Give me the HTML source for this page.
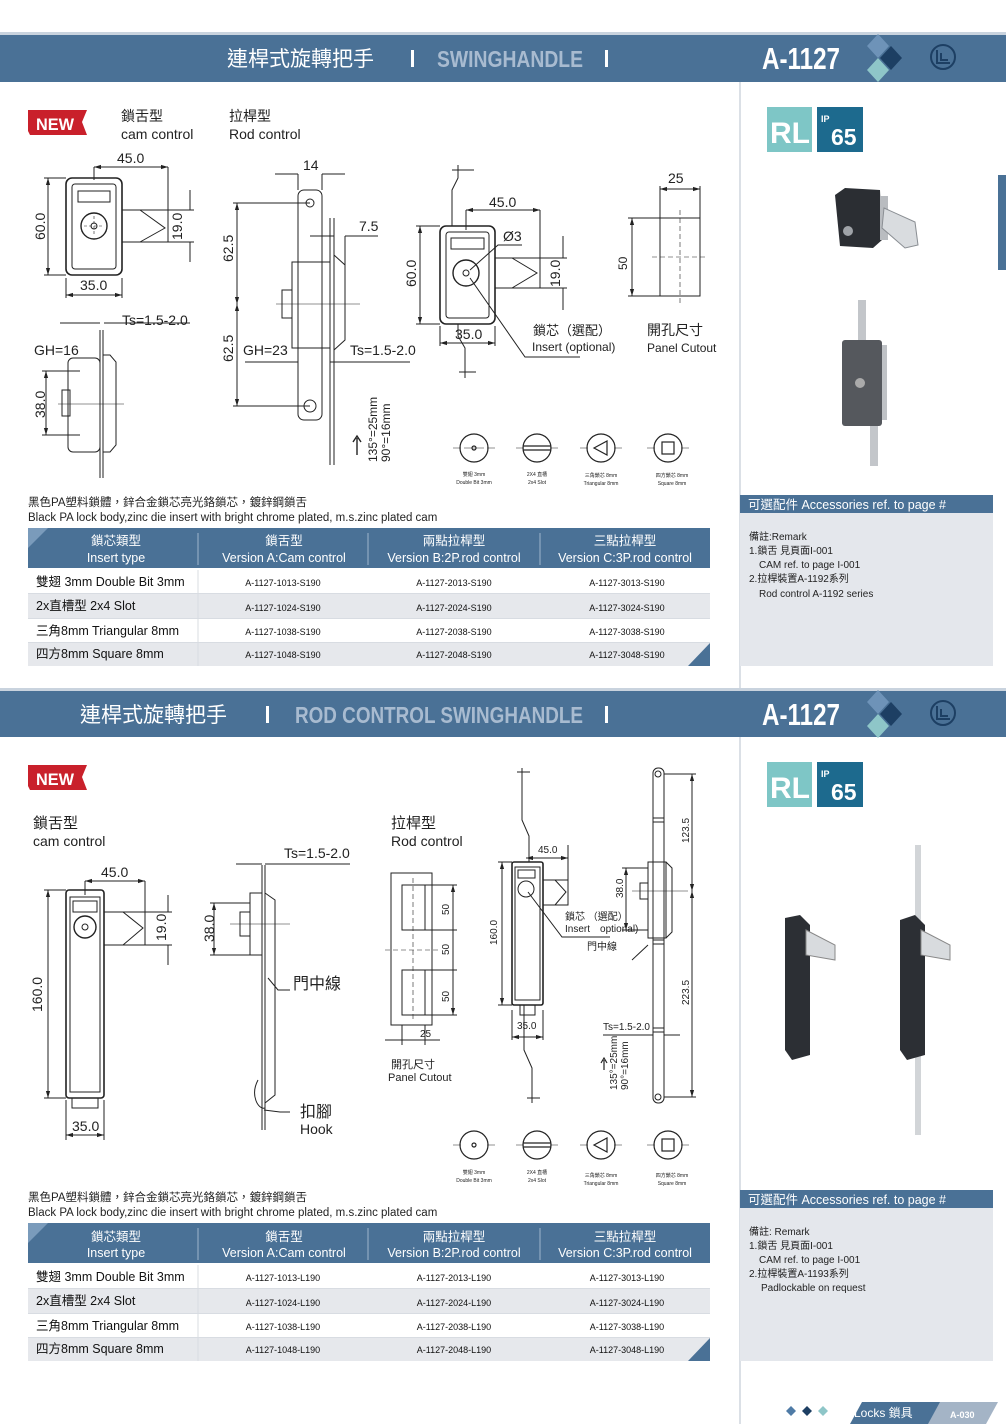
<!DOCTYPE html>
<html><head><meta charset="utf-8"><style>
html,body{margin:0;padding:0;background:#fff}
svg{display:block}
text{font-family:"Liberation Sans","Noto Sans CJK TC",sans-serif}
</style></head><body>
<svg width="1006" height="1424" viewBox="0 0 1006 1424" xmlns="http://www.w3.org/2000/svg">
<defs>
<marker id="a" viewBox="0 0 10 10" refX="10" refY="5" markerWidth="7" markerHeight="7" orient="auto-start-reverse"><path d="M0,2 L10,5 L0,8z" fill="#222"/></marker>
</defs>
<rect width="1006" height="1424" fill="#fff"/>

<!-- HEADER 1 -->
<rect x="0" y="32" width="1006" height="3" fill="#c9d3de"/>
<rect x="0" y="35" width="1006" height="47" fill="#4a7196"/>
<text x="227" y="66" font-size="21" fill="#fff">連桿式旋轉把手</text>
<rect x="411" y="50" width="3" height="17" fill="#fff"/>
<text x="437" y="67" font-size="23" fill="#a8bbd0" font-weight="bold" textLength="146" lengthAdjust="spacingAndGlyphs">SWINGHANDLE</text>
<rect x="605" y="50" width="3" height="17" fill="#fff"/>
<text x="762" y="69" font-size="31" fill="#fff" font-weight="bold" textLength="78" lengthAdjust="spacingAndGlyphs">A-1127</text>
<path d="M878,34 L889,46 L878,58 L867,46z" fill="#6e93b8"/>
<path d="M891,46 L902,58 L891,70 L880,58z" fill="#1d3f63"/>
<path d="M878,58 L889,70 L878,82 L867,70z" fill="#8ec6c8"/>
<circle cx="943" cy="57" r="12" fill="none" stroke="#1d3f63" stroke-width="2"/>
<path d="M937,50 V63 H950 M941,53 V60 H948" fill="none" stroke="#1d3f63" stroke-width="2"/>

<!-- right column divider -->
<line x1="740" y1="82" x2="740" y2="690" stroke="#cfd5de" stroke-width="1.5"/>
<line x1="740" y1="737" x2="740" y2="1424" stroke="#cfd5de" stroke-width="1.5"/>
<rect x="998" y="175" width="8" height="95" fill="#4a7196"/>

<!-- RL IP65 top -->
<rect x="767" y="107" width="45" height="45" fill="#7ec6c6"/>
<text x="770" y="143" font-size="30" font-weight="bold" fill="#fff">RL</text>
<rect x="817" y="107" width="46" height="45" fill="#1d6a8e"/>
<text x="821" y="122" font-size="9" font-weight="bold" fill="#fff">IP</text>
<text x="831" y="145" font-size="23" font-weight="bold" fill="#fff">65</text>

<!-- photo 1 -->
<path d="M845,188 L880,190 L882,240 L873,248 L840,246 L835,195z" fill="#2b2e33"/>
<rect x="880" y="196" width="8" height="44" fill="#b9bcc0"/>
<path d="M884,208 L915,222 L918,245 L905,248 L882,228z" fill="#d9dcdf" stroke="#8a8e93"/>
<circle cx="848" cy="231" r="5" fill="#9fa3a8"/>
<!-- photo 2 -->
<rect x="858" y="300" width="8" height="40" fill="#c3c6ca"/>
<rect x="842" y="340" width="40" height="86" rx="3" fill="#55585d"/>
<rect x="882" y="345" width="5" height="75" fill="#bfc2c6"/>
<circle cx="860" cy="383" r="5" fill="#aaa"/>
<rect x="870" y="426" width="8" height="40" fill="#c3c6ca"/>

<!-- NEW 1 -->
<path d="M28,110 L87,110 L82,122 L87,135 L30,135 L28,131z" fill="#c9202b"/>
<text x="36" y="130" font-size="17" font-weight="bold" fill="#fff" textLength="38" lengthAdjust="spacingAndGlyphs">NEW</text>
<text x="121" y="121" font-size="14" fill="#222">鎖舌型</text>
<text x="121" y="139" font-size="14" fill="#222">cam control</text>
<text x="229" y="121" font-size="14" fill="#222">拉桿型</text>
<text x="229" y="139" font-size="14" fill="#222">Rod control</text>

<g stroke="#222" stroke-width="1" fill="none">
<rect x="66" y="178" width="56" height="97" rx="6" stroke-width="1.6"/>
<rect x="72" y="184" width="44" height="85" rx="3"/>
<rect x="78" y="191" width="32" height="11"/>
<circle cx="94" cy="226" r="13" stroke-width="1.4"/>
<circle cx="94" cy="226" r="3"/>
<path d="M84,226 h20 M94,216 v20" stroke-dasharray="3,2" stroke-width="0.6"/>
<path d="M122,210 H168 V242 H122 M140,210 L165,228 L140,242"/>
<path d="M94,167 H168" marker-start="url(#a)" marker-end="url(#a)"/>
<path d="M168,167 V215 M94,167 V180"/>
<path d="M48,178 V275" marker-start="url(#a)" marker-end="url(#a)"/>
<path d="M44,178 H66 M44,275 H66"/>
<path d="M66,295 H122" marker-start="url(#a)" marker-end="url(#a)"/>
<path d="M66,278 V298 M122,278 V298"/>
<path d="M190,190 V210 M190,242 V262 M168,210 H194 M168,242 H194"/>
<path d="M100,330 V478 M103,330 V478"/>
<path d="M103,355 H110 L116,362 V445 L110,452 H103"/>
<rect x="68" y="358" width="32" height="94" rx="5"/>
<rect x="62" y="390" width="8" height="26"/>
<path d="M58,404 H124" stroke-width="0.6"/>
<path d="M60,323 H100 M104,323 H190"/>
<path d="M46,371 V435" marker-start="url(#a)" marker-end="url(#a)"/>
<path d="M42,371 H80 M42,435 H80"/>
<rect x="298" y="190" width="24" height="230" rx="6"/>
<circle cx="310" cy="203" r="4"/>
<circle cx="310" cy="406" r="6"/>
<path d="M330,218 V465 M334,218 V465"/>
<rect x="292" y="262" width="38" height="86"/>
<path d="M334,255 L345,265 V340 L334,350"/>
<rect x="282" y="290" width="10" height="28"/>
<path d="M276,304 H360" stroke-width="0.6"/>
<path d="M237,203 V304" marker-start="url(#a)" marker-end="url(#a)"/>
<path d="M237,304 V406" marker-start="url(#a)" marker-end="url(#a)"/>
<path d="M233,203 H310 M233,406 H310"/>
<path d="M275,174 H298 M322,174 H345 M298,174 V190 M322,174 V190"/>
<path d="M310,236 H334 M345,236 H378 M345,236 V300"/>
<path d="M245,362 H298 M330,362 H410"/>
<path d="M357,455 V438 M353,442 L357,436 L361,442" stroke-width="1.4"/>
<path d="M458,165 V178 L452,190 V226 M458,324 V336 L465,348 V378"/>
<path d="M452,170 H474 M459,372 H476"/>
<rect x="440" y="226" width="55" height="98" rx="6" stroke-width="1.6"/>
<rect x="446" y="232" width="43" height="86" rx="3"/>
<rect x="451" y="238" width="33" height="11"/>
<circle cx="466" cy="273" r="13" stroke-width="1.4"/>
<circle cx="466" cy="273" r="3"/>
<path d="M495,258 H540 V288 H495 M512,258 L537,273 L512,288"/>
<path d="M466,210 H540" marker-start="url(#a)" marker-end="url(#a)"/>
<path d="M466,210 V230 M540,210 V258"/>
<path d="M420,226 V324" marker-start="url(#a)" marker-end="url(#a)"/>
<path d="M416,226 H440 M416,324 H440"/>
<path d="M440,343 H495" marker-start="url(#a)" marker-end="url(#a)"/>
<path d="M440,326 V346 M495,326 V346"/>
<path d="M563,236 V258 M563,288 V310 M540,258 H567 M540,288 H567"/>
<path d="M470,270 L498,245 H522"/>
<path d="M470,278 L525,357 H580"/>
<rect x="660" y="218" width="40" height="78"/>
<path d="M680,210 V305 M652,257 H708" stroke-dasharray="5,3" stroke-width="0.6"/>
<path d="M660,189 H700" marker-start="url(#a)" marker-end="url(#a)"/>
<path d="M660,186 V218 M700,186 V218"/>
<path d="M632,218 V296" marker-start="url(#a)" marker-end="url(#a)"/>
<path d="M628,218 H660 M628,296 H660"/>
</g>
<g font-size="14" fill="#222">
<text x="117" y="163">45.0</text>
<text x="80" y="290">35.0</text>
<text transform="translate(45,240) rotate(-90)">60.0</text>
<text transform="translate(182,240) rotate(-90)">19.0</text>
<text x="122" y="325">Ts=1.5-2.0</text>
<text x="34" y="355">GH=16</text>
<text transform="translate(45,418) rotate(-90)">38.0</text>
<text x="303" y="170">14</text>
<text x="359" y="231">7.5</text>
<text transform="translate(233,262) rotate(-90)">62.5</text>
<text transform="translate(233,362) rotate(-90)">62.5</text>
<text x="243" y="355">GH=23</text>
<text x="350" y="355">Ts=1.5-2.0</text>
<text x="489" y="207">45.0</text>
<text x="503" y="241">Ø3</text>
<text transform="translate(416,287) rotate(-90)">60.0</text>
<text x="455" y="339">35.0</text>
<text transform="translate(560,287) rotate(-90)">19.0</text>
<text x="668" y="183">25</text>
<text transform="translate(627,270) rotate(-90)" font-size="12">50</text>
</g>
<g font-size="12" fill="#222">
<text transform="translate(377,462) rotate(-90)" font-size="12">135°=25mm</text>
<text transform="translate(390,462) rotate(-90)" font-size="12">90°=16mm</text>
<text x="533" y="335" font-size="13">鎖芯（選配）</text>
<text x="532" y="351">Insert (optional)</text>
<text x="647" y="335" font-size="14">開孔尺寸</text>
<text x="647" y="352">Panel Cutout</text>
</g>

<g stroke="#222" fill="none" stroke-width="1.2">
<circle cx="474" cy="448" r="14"/><circle cx="474" cy="448" r="2"/><path d="M464,448 h20" stroke-width="0.5"/>
<circle cx="537" cy="448" r="14"/><path d="M523,446 H551 M523,450 H551"/>
<circle cx="601" cy="448" r="14"/><path d="M594,448 L607,441 V455z"/>
<circle cx="668" cy="448" r="14"/><rect x="662" y="442" width="12" height="12"/>
<path d="M453,448 h8 M487,448 h8 M516,448 h8 M550,448 h8 M580,448 h8 M614,448 h8 M647,448 h8 M681,448 h8" stroke-width="0.6"/>
</g>
<g font-size="5" fill="#222" text-anchor="middle">
<text x="474" y="476">雙翅 3mm</text><text x="474" y="484">Double Bit 3mm</text>
<text x="537" y="476">2X4 直槽</text><text x="537" y="484">2x4 Slot</text>
<text x="601" y="477">三角鎖芯 8mm</text><text x="601" y="485">Triangular 8mm</text>
<text x="672" y="477">四方鎖芯 8mm</text><text x="672" y="485">Square 8mm</text>
</g>

<text x="28" y="506" font-size="11.5" fill="#222">黑色PA塑料鎖體，鋅合金鎖芯亮光鉻鎖芯，鍍鋅鋼鎖舌</text>
<text x="28" y="521" font-size="11.5" fill="#222">Black PA lock body,zinc die insert with bright chrome plated, m.s.zinc plated cam</text>

<g>
<rect x="28" y="528" width="682" height="40" fill="#4a7196"/>
<path d="M28,528 L48,528 L28,548z" fill="#7a9bbb"/>
<g stroke="#9fb5cc"><line x1="198" y1="533" x2="198" y2="565"/><line x1="368" y1="533" x2="368" y2="565"/><line x1="540" y1="533" x2="540" y2="565"/></g>
<g fill="#fff" font-size="12.5" text-anchor="middle">
<text x="116" y="545">鎖芯類型</text><text x="116" y="562">Insert type</text>
<text x="284" y="545">鎖舌型</text><text x="284" y="562">Version A:Cam control</text>
<text x="454" y="545">兩點拉桿型</text><text x="454" y="562">Version B:2P.rod control</text>
<text x="625" y="545">三點拉桿型</text><text x="625" y="562">Version C:3P.rod control</text>
</g>
<rect x="28" y="570" width="682" height="23" fill="#fff"/>
<rect x="28" y="594" width="682" height="24" fill="#e6e8ec"/>
<rect x="28" y="619" width="682" height="23" fill="#fff"/>
<rect x="28" y="643" width="682" height="23" fill="#e6e8ec"/>
<g stroke="#d8dce2"><line x1="28" y1="593.5" x2="710" y2="593.5"/><line x1="28" y1="618.5" x2="710" y2="618.5"/><line x1="28" y1="642.5" x2="710" y2="642.5"/><line x1="198" y1="570" x2="198" y2="666"/></g>
<path d="M710,643 V666 H688z" fill="#4a7196"/>
<g font-size="12.5" fill="#111">
<text x="36" y="586">雙翅 3mm Double Bit 3mm</text>
<text x="36" y="610">2x直槽型 2x4 Slot</text>
<text x="36" y="635">三角8mm Triangular 8mm</text>
<text x="36" y="658">四方8mm Square 8mm</text>
</g>
<g font-size="9" fill="#111" text-anchor="middle">
<text x="283" y="586">A-1127-1013-S190</text><text x="454" y="586">A-1127-2013-S190</text><text x="627" y="586">A-1127-3013-S190</text>
<text x="283" y="611">A-1127-1024-S190</text><text x="454" y="611">A-1127-2024-S190</text><text x="627" y="611">A-1127-3024-S190</text>
<text x="283" y="635">A-1127-1038-S190</text><text x="454" y="635">A-1127-2038-S190</text><text x="627" y="635">A-1127-3038-S190</text>
<text x="283" y="658">A-1127-1048-S190</text><text x="454" y="658">A-1127-2048-S190</text><text x="627" y="658">A-1127-3048-S190</text>
</g>
</g>

<rect x="740" y="495" width="253" height="18" fill="#4a7196"/>
<text x="748" y="509" font-size="12.5" fill="#fff">可選配件 Accessories ref. to page #</text>
<rect x="740" y="513" width="253" height="153" fill="#e4e7ec"/>
<g font-size="10" fill="#222">
<text x="749" y="540">備註:Remark</text>
<text x="749" y="554">1.鎖舌 見頁面I-001</text>
<text x="759" y="568">CAM ref. to page I-001</text>
<text x="749" y="582">2.拉桿裝置A-1192系列</text>
<text x="759" y="597">Rod control A-1192 series</text>
</g>

<!-- HEADER 2 -->
<rect x="0" y="688" width="1006" height="3" fill="#c9d3de"/>
<rect x="0" y="691" width="1006" height="46" fill="#4a7196"/>
<text x="80" y="722" font-size="21" fill="#fff">連桿式旋轉把手</text>
<rect x="266" y="706" width="3" height="17" fill="#fff"/>
<text x="295" y="723" font-size="23" fill="#a8bbd0" font-weight="bold" textLength="288" lengthAdjust="spacingAndGlyphs">ROD CONTROL SWINGHANDLE</text>
<rect x="605" y="706" width="3" height="17" fill="#fff"/>
<text x="762" y="725" font-size="31" fill="#fff" font-weight="bold" textLength="78" lengthAdjust="spacingAndGlyphs">A-1127</text>
<path d="M878,690 L889,702 L878,714 L867,702z" fill="#6e93b8"/>
<path d="M891,702 L902,714 L891,726 L880,714z" fill="#1d3f63"/>
<path d="M878,714 L889,726 L878,738 L867,726z" fill="#8ec6c8"/>
<circle cx="943" cy="713" r="12" fill="none" stroke="#1d3f63" stroke-width="2"/>
<path d="M937,706 V719 H950 M941,709 V716 H948" fill="none" stroke="#1d3f63" stroke-width="2"/>

<rect x="767" y="762" width="45" height="45" fill="#7ec6c6"/>
<text x="770" y="798" font-size="30" font-weight="bold" fill="#fff">RL</text>
<rect x="817" y="762" width="46" height="45" fill="#1d6a8e"/>
<text x="821" y="777" font-size="9" font-weight="bold" fill="#fff">IP</text>
<text x="831" y="800" font-size="23" font-weight="bold" fill="#fff">65</text>
<path d="M785,918 L800,915 L810,925 V1055 L792,1060 L785,1050z" fill="#2c2f34"/>
<path d="M806,930 L835,945 V960 L806,955z" fill="#d8dbde" stroke="#888"/>
<rect x="915" y="845" width="6" height="290" fill="#d2d5d8"/>
<path d="M900,920 L915,915 L925,925 V1055 L907,1060 L900,1050z" fill="#2c2f34"/>
<path d="M921,930 L950,945 V960 L921,955z" fill="#d8dbde" stroke="#888"/>

<path d="M28,765 L87,765 L82,777 L87,790 L30,790 L28,786z" fill="#c9202b"/>
<text x="36" y="785" font-size="17" font-weight="bold" fill="#fff" textLength="38" lengthAdjust="spacingAndGlyphs">NEW</text>
<text x="33" y="828" font-size="15" fill="#222">鎖舌型</text>
<text x="33" y="846" font-size="14" fill="#222">cam control</text>
<text x="391" y="828" font-size="15" fill="#222">拉桿型</text>
<text x="391" y="846" font-size="14" fill="#222">Rod control</text>

<g stroke="#222" stroke-width="1" fill="none">
<rect x="66" y="890" width="38" height="208" rx="3" stroke-width="1.6"/>
<rect x="70" y="897" width="30" height="195"/>
<rect x="73" y="901" width="24" height="11"/>
<circle cx="85" cy="927" r="11" stroke-width="1.4"/><circle cx="85" cy="927" r="3"/>
<path d="M104,912 H145 V945 H104 M123,912 L143,928 L123,945"/>
<rect x="72" y="1098" width="26" height="10"/>
<path d="M85,881 H145" marker-start="url(#a)" marker-end="url(#a)"/>
<path d="M145,881 V912 M85,881 V895"/>
<path d="M48,890 V1098" marker-start="url(#a)" marker-end="url(#a)"/>
<path d="M44,890 H66 M44,1098 H66"/>
<path d="M66,1135 H104" marker-start="url(#a)" marker-end="url(#a)"/>
<path d="M66,1100 V1140 M104,1100 V1140"/>
<path d="M168,895 V912 M168,945 V965 M145,912 H172 M145,945 H172"/>
<path d="M262,865 V1130 M265,865 V1130"/>
<path d="M265,893 L275,900 V1095 L265,1103"/>
<rect x="250" y="893" width="12" height="62"/>
<rect x="240" y="912" width="10" height="24"/>
<path d="M230,924 H290" stroke-width="0.6"/>
<path d="M214,903 V955" marker-start="url(#a)" marker-end="url(#a)"/>
<path d="M210,903 H250 M210,955 H250"/>
<path d="M236,864 H262 M265,864 H350"/>
<path d="M258,1080 C250,1095 258,1110 265,1108"/>
<path d="M268,978 L278,990 H290 M264,1110 L280,1112 L290,1112"/>
<rect x="391" y="873" width="41" height="152"/>
<rect x="402" y="885" width="23" height="45"/>
<rect x="402" y="970" width="23" height="45"/>
<path d="M413,878 V1020 M385,950 H440" stroke-dasharray="5,3" stroke-width="0.6"/>
<path d="M453,885 V930 M453,930 V970 M453,970 V1015" marker-start="url(#a)" marker-end="url(#a)"/>
<path d="M425,885 H457 M425,930 H457 M425,970 H457 M425,1015 H457"/>
<path d="M385,1040 H440" />
<path d="M402,1025 V1045 M425,1025 V1045"/>
<path d="M522,768 V820 L529,836 V862 M524,1005 V1050 L532,1068 V1103"/>
<path d="M517,772 H530 M527,1098 H540"/>
<rect x="512" y="862" width="31" height="143" rx="2" stroke-width="1.6"/>
<rect x="515" y="867" width="25" height="133"/>
<rect x="518" y="870" width="17" height="8"/>
<circle cx="526" cy="889" r="8"/>
<path d="M543,880 H568 V905 H543 M555,880 L566,892 L555,905"/>
<rect x="520" y="1005" width="15" height="10"/>
<path d="M526,858 H568" marker-start="url(#a)" marker-end="url(#a)"/>
<path d="M568,845 V880"/>
<path d="M502,862 V1005" marker-start="url(#a)" marker-end="url(#a)"/>
<path d="M498,862 H512 M498,1005 H512"/>
<path d="M512,1037 H543" marker-start="url(#a)" marker-end="url(#a)"/>
<path d="M512,1010 V1040 M543,1010 V1040"/>
<path d="M528,892 L562,937 H610 M648,945 L632,960"/>
<rect x="653" y="768" width="11" height="335" rx="5"/>
<circle cx="658" cy="774" r="3"/><circle cx="658" cy="1097" r="3"/>
<path d="M653,818 H664 M653,822 H664 M653,940 H664 M653,944 H664 M653,1028 H664 M653,1032 H664"/>
<rect x="648" y="862" width="18" height="76"/>
<path d="M666,862 L672,868 V932 L666,938"/>
<rect x="640" y="883" width="8" height="16"/>
<path d="M632,891 H688" stroke-width="0.6"/>
<path d="M692,774 V891" marker-start="url(#a)" marker-end="url(#a)"/>
<path d="M692,891 V1097" marker-start="url(#a)" marker-end="url(#a)"/>
<path d="M664,774 H696 M664,1097 H696"/>
<path d="M626,868 V930" marker-start="url(#a)" marker-end="url(#a)"/>
<path d="M622,868 H648 M622,930 H648"/>
<path d="M603,1035 H653 M664,1035 H680"/>
<path d="M604,1070 V1060 M601,1063 L604,1058 L607,1063" stroke-width="1.2"/>
</g>
<g font-size="14" fill="#222">
<text x="101" y="877">45.0</text>
<text transform="translate(42,1012) rotate(-90)">160.0</text>
<text transform="translate(166,941) rotate(-90)">19.0</text>
<text x="72" y="1131">35.0</text>
<text x="284" y="858">Ts=1.5-2.0</text>
<text transform="translate(214,942) rotate(-90)">38.0</text>
<text x="293" y="989" font-size="16">門中線</text>
<text x="300" y="1117" font-size="16">扣腳</text>
<text x="300" y="1134">Hook</text>
<text x="391" y="1068" font-size="11">開孔尺寸</text>
<text x="388" y="1081" font-size="11">Panel Cutout</text>
</g>
<g font-size="10" fill="#222">
<text transform="translate(449,915) rotate(-90)">50</text>
<text transform="translate(449,955) rotate(-90)">50</text>
<text transform="translate(449,1002) rotate(-90)">50</text>
<text x="420" y="1037">25</text>
<text x="538" y="853">45.0</text>
<text transform="translate(497,945) rotate(-90)">160.0</text>
<text x="517" y="1029">35.0</text>
<text x="565" y="920">鎖芯 （選配）</text>
<text x="565" y="932">Insert　optional)</text>
<text x="587" y="950">門中線</text>
<text transform="translate(689,843) rotate(-90)">123.5</text>
<text transform="translate(623,898) rotate(-90)">38.0</text>
<text transform="translate(689,1005) rotate(-90)">223.5</text>
<text x="603" y="1030">Ts=1.5-2.0</text>
<text transform="translate(617,1090) rotate(-90)">135°=25mm</text>
<text transform="translate(628,1090) rotate(-90)">90°=16mm</text>
</g>

<g stroke="#222" fill="none" stroke-width="1.2">
<circle cx="474" cy="1145" r="14"/><circle cx="474" cy="1145" r="2"/>
<circle cx="537" cy="1145" r="14"/><path d="M523,1143 H551 M523,1147 H551"/>
<circle cx="601" cy="1145" r="14"/><path d="M594,1145 L607,1138 V1152z"/>
<circle cx="668" cy="1145" r="14"/><rect x="662" y="1139" width="12" height="12"/>
<path d="M453,1145 h8 M487,1145 h8 M516,1145 h8 M550,1145 h8 M580,1145 h8 M614,1145 h8 M647,1145 h8 M681,1145 h8" stroke-width="0.6"/>
</g>
<g font-size="5" fill="#222" text-anchor="middle">
<text x="474" y="1174">雙翅 3mm</text><text x="474" y="1182">Double Bit 3mm</text>
<text x="537" y="1174">2X4 直槽</text><text x="537" y="1182">2x4 Slot</text>
<text x="601" y="1177">三角鎖芯 8mm</text><text x="601" y="1185">Triangular 8mm</text>
<text x="672" y="1177">四方鎖芯 8mm</text><text x="672" y="1185">Square 8mm</text>
</g>

<text x="28" y="1201" font-size="11.5" fill="#222">黑色PA塑料鎖體，鋅合金鎖芯亮光鉻鎖芯，鍍鋅鋼鎖舌</text>
<text x="28" y="1216" font-size="11.5" fill="#222">Black PA lock body,zinc die insert with bright chrome plated, m.s.zinc plated cam</text>

<g>
<rect x="28" y="1223" width="682" height="40" fill="#4a7196"/>
<path d="M28,1223 L48,1223 L28,1243z" fill="#7a9bbb"/>
<g stroke="#9fb5cc"><line x1="198" y1="1228" x2="198" y2="1260"/><line x1="368" y1="1228" x2="368" y2="1260"/><line x1="540" y1="1228" x2="540" y2="1260"/></g>
<g fill="#fff" font-size="12.5" text-anchor="middle">
<text x="116" y="1241">鎖芯類型</text><text x="116" y="1257">Insert type</text>
<text x="284" y="1241">鎖舌型</text><text x="284" y="1257">Version A:Cam control</text>
<text x="454" y="1241">兩點拉桿型</text><text x="454" y="1257">Version B:2P.rod control</text>
<text x="625" y="1241">三點拉桿型</text><text x="625" y="1257">Version C:3P.rod control</text>
</g>
<rect x="28" y="1265" width="682" height="23" fill="#fff"/>
<rect x="28" y="1289" width="682" height="24" fill="#e6e8ec"/>
<rect x="28" y="1314" width="682" height="23" fill="#fff"/>
<rect x="28" y="1338" width="682" height="23" fill="#e6e8ec"/>
<g stroke="#d8dce2"><line x1="28" y1="1288.5" x2="710" y2="1288.5"/><line x1="28" y1="1313.5" x2="710" y2="1313.5"/><line x1="28" y1="1337.5" x2="710" y2="1337.5"/><line x1="198" y1="1265" x2="198" y2="1361"/></g>
<path d="M710,1338 V1361 H688z" fill="#4a7196"/>
<g font-size="12.5" fill="#111">
<text x="36" y="1281">雙翅 3mm Double Bit 3mm</text>
<text x="36" y="1305">2x直槽型 2x4 Slot</text>
<text x="36" y="1330">三角8mm Triangular 8mm</text>
<text x="36" y="1353">四方8mm Square 8mm</text>
</g>
<g font-size="9" fill="#111" text-anchor="middle">
<text x="283" y="1281">A-1127-1013-L190</text><text x="454" y="1281">A-1127-2013-L190</text><text x="627" y="1281">A-1127-3013-L190</text>
<text x="283" y="1306">A-1127-1024-L190</text><text x="454" y="1306">A-1127-2024-L190</text><text x="627" y="1306">A-1127-3024-L190</text>
<text x="283" y="1330">A-1127-1038-L190</text><text x="454" y="1330">A-1127-2038-L190</text><text x="627" y="1330">A-1127-3038-L190</text>
<text x="283" y="1353">A-1127-1048-L190</text><text x="454" y="1353">A-1127-2048-L190</text><text x="627" y="1353">A-1127-3048-L190</text>
</g>
</g>

<rect x="740" y="1190" width="253" height="18" fill="#4a7196"/>
<text x="748" y="1204" font-size="12.5" fill="#fff">可選配件 Accessories ref. to page #</text>
<rect x="740" y="1208" width="253" height="153" fill="#e4e7ec"/>
<g font-size="10" fill="#222">
<text x="749" y="1235">備註: Remark</text>
<text x="749" y="1249">1.鎖舌 見頁面I-001</text>
<text x="759" y="1263">CAM ref. to page I-001</text>
<text x="749" y="1277">2.拉桿裝置A-1193系列</text>
<text x="761" y="1291">Padlockable on request</text>
</g>

<path d="M791,1406 L796,1411 L791,1416 L786,1411z" fill="#4f7ba6"/>
<path d="M807,1406 L812,1411 L807,1416 L802,1411z" fill="#1d3f63"/>
<path d="M823,1406 L828,1411 L823,1416 L818,1411z" fill="#8ec6c8"/>
<path d="M850,1424 L862,1402 L944,1402 L932,1424z" fill="#4a7196"/>
<path d="M928,1424 L940,1402 L998,1402 L986,1424z" fill="#a4b4c6"/>
<text x="854" y="1417" font-size="12" fill="#fff">Locks 鎖具</text>
<text x="950" y="1418" font-size="9" font-weight="bold" fill="#fff">A-030</text>
</svg>
</body></html>
